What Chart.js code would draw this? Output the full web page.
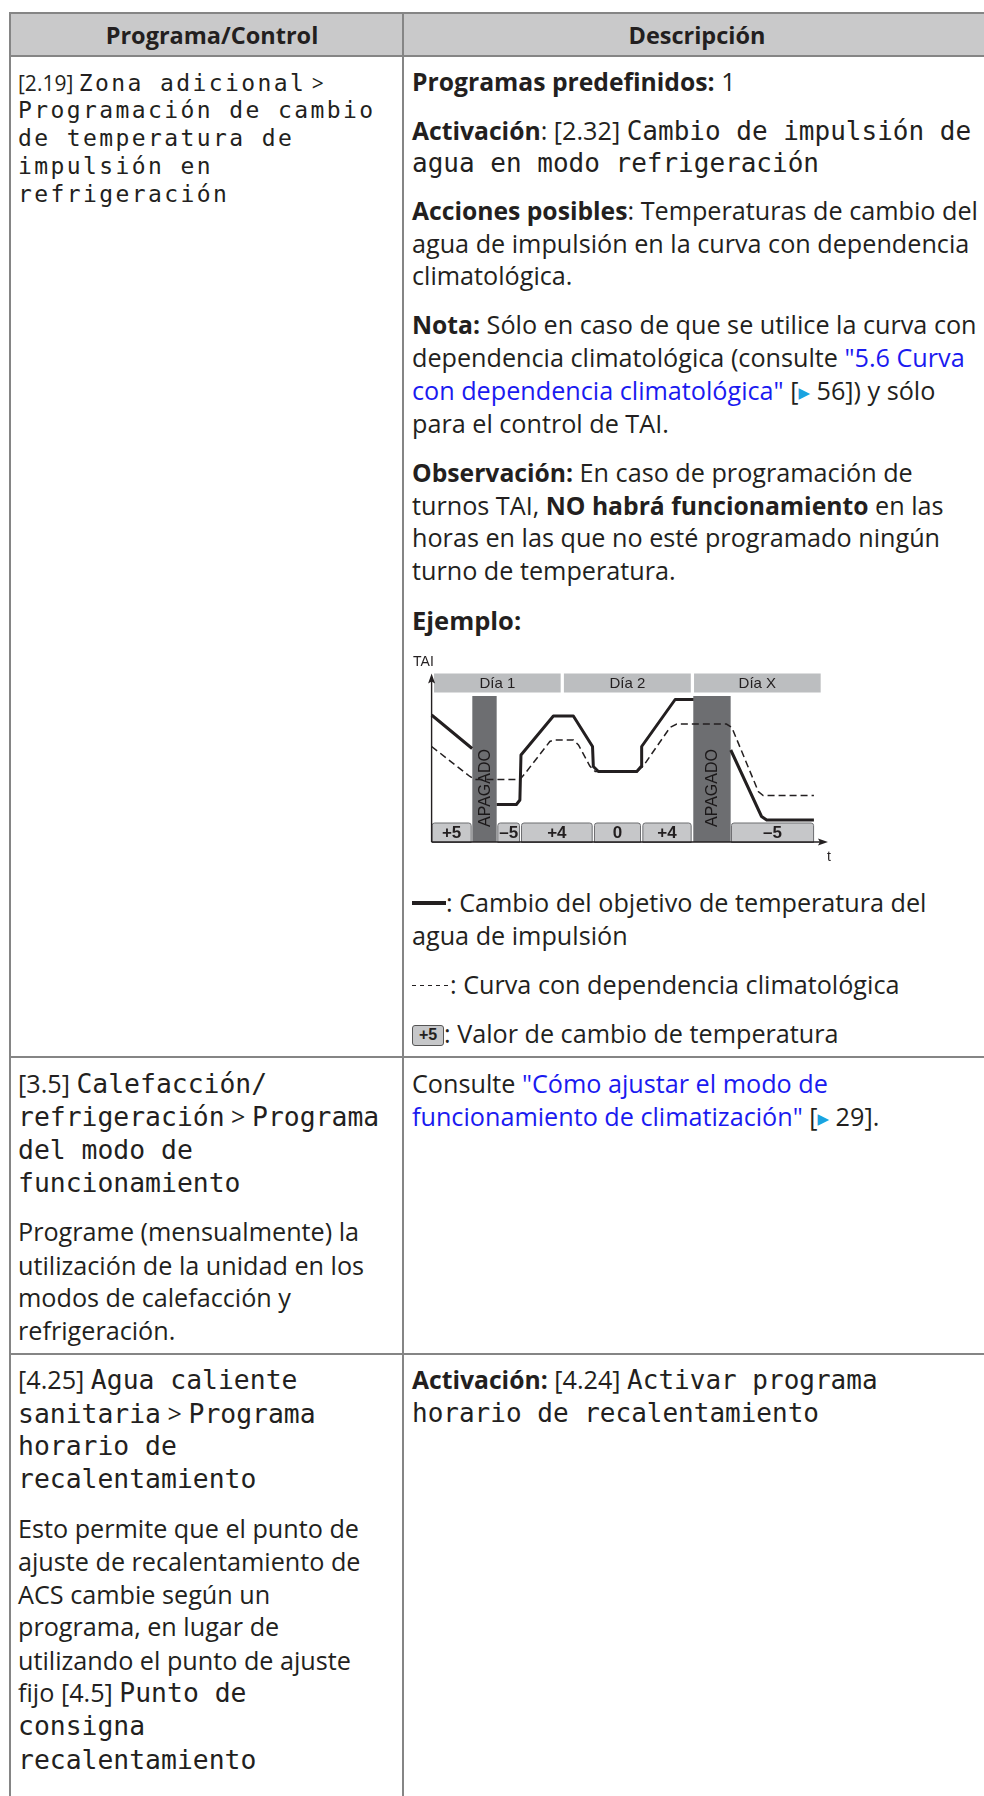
<!DOCTYPE html>
<html lang="es">
<head>
<meta charset="utf-8">
<script src="https://cdn.jsdelivr.net/npm/chart.js@4"></script>
<style>
  html, body { margin: 0; padding: 0; background: #fff; }
  body { width: 984px; height: 1796px; position: relative; overflow: hidden; color: #231f20;
         font-family: "Open Sans", sans-serif; font-size: 25.2px; }
  .ln { position: absolute; white-space: nowrap; height: 34px; line-height: 34px; }
  .sm { height: 28px; line-height: 28px; font-size: 21px; }
  .c1 { left: 18px; }
  .c2 { left: 412px; }
  .m0 { font-family: "DejaVu Sans Mono", monospace; font-size: 23px; letter-spacing: 2.4px; }
  .m1 { font-family: "DejaVu Sans Mono", monospace; font-size: 26.4px; }
  .m3 { font-family: "DejaVu Sans Mono", monospace; font-size: 26px; }
  b { font-weight: 700; font-size: 24.7px; }
  .lk { color: #1a1af0; }
  .ar { color: #1aa3e0; font-size: 15px; font-family: "DejaVu Sans", sans-serif; vertical-align: 2px; }
  .hl { position: absolute; background: #858585; }
  .head { position: absolute; left: 10px; top: 13px; width: 990px; height: 43px; background: #c9c9ca; }
  .htx { position: absolute; top: 13px; height: 43px; line-height: 45px; font-weight: 700; font-size: 23.5px; text-align: center; }
  .solid { display: inline-block; width: 34px; height: 4px; background: #231f20; vertical-align: 7px; }
  .dash { display: inline-block; width: 38px; height: 1.5px; vertical-align: 8px;
          background: repeating-linear-gradient(to right, #231f20 0 4.5px, transparent 4.5px 8px); }
  .key { display: inline-block; width: 30px; height: 19px; line-height: 19px; border: 1px solid #555; border-radius: 3px;
         background: #c6c7c9; font: bold 16px "Liberation Sans", Arial, sans-serif; text-align: center; vertical-align: 3px; }
  #chartBox { position: absolute; left: 410px; top: 652px; width: 432px; height: 220px; }
</style>
</head>
<body>
<!-- tabla -->
<div class="head"></div>
<div class="hl" style="left:10px;top:12px;width:990px;height:2px"></div>
<div class="hl" style="left:10px;top:55px;width:990px;height:2px"></div>
<div class="hl" style="left:10px;top:1056px;width:990px;height:2px"></div>
<div class="hl" style="left:10px;top:1353px;width:990px;height:2px"></div>
<div class="hl" style="left:9px;top:12px;width:2px;height:1784px"></div>
<div class="hl" style="left:402px;top:12px;width:2px;height:1784px"></div>
<div class="htx" style="left:10px;width:404px">Programa/Control</div>
<div class="htx" style="left:404px;width:586px">Descripción</div>

<!-- fila 1, columna 1 -->
<div class="ln sm c1" style="top:68.5px">[2.19] <span class="m0">Zona adicional</span> &gt;</div>
<div class="ln sm c1 m0" style="top:96.3px">Programación de cambio</div>
<div class="ln sm c1 m0" style="top:124.1px">de temperatura de</div>
<div class="ln sm c1 m0" style="top:151.9px">impulsión en</div>
<div class="ln sm c1 m0" style="top:179.7px">refrigeración</div>

<!-- fila 1, columna 2 -->
<div class="ln c2" style="top:64.3px"><b>Programas predefinidos:</b> 1</div>
<div class="ln c2" style="top:112.9px"><b>Activación</b>: [2.32] <span class="m3">Cambio de impulsión de</span></div>
<div class="ln c2 m3" style="top:146.2px">agua en modo refrigeración</div>
<div class="ln c2" style="top:193px"><b>Acciones posibles</b>: Temperaturas de cambio del</div>
<div class="ln c2" style="top:225.7px">agua de impulsión en la curva con dependencia</div>
<div class="ln c2" style="top:258.4px">climatológica.</div>
<div class="ln c2" style="top:307px"><b>Nota:</b> Sólo en caso de que se utilice la curva con</div>
<div class="ln c2" style="top:340.3px">dependencia climatológica (consulte <span class="lk">"5.6 Curva</span></div>
<div class="ln c2" style="top:373px"><span class="lk">con dependencia climatológica"</span> [<span class="ar">▶</span> 56]) y sólo</div>
<div class="ln c2" style="top:405.8px">para el control de TAI.</div>
<div class="ln c2" style="top:454.8px"><b>Observación:</b> En caso de programación de</div>
<div class="ln c2" style="top:487.5px">turnos TAI, <b>NO habrá funcionamiento</b> en las</div>
<div class="ln c2" style="top:520.2px">horas en las que no esté programado ningún</div>
<div class="ln c2" style="top:552.9px">turno de temperatura.</div>
<div class="ln c2" style="top:602.5px"><b style="font-size:25.5px">Ejemplo:</b></div>

<div id="chartBox"><canvas id="shiftChart" width="432" height="220"></canvas></div>

<div class="ln c2" style="top:885px"><span class="solid"></span>: Cambio del objetivo de temperatura del</div>
<div class="ln c2" style="top:918.4px">agua de impulsión</div>
<div class="ln c2" style="top:967px"><span class="dash"></span>: Curva con dependencia climatológica</div>
<div class="ln c2" style="top:1016.2px"><span class="key">+5</span>: Valor de cambio de temperatura</div>

<!-- fila 2 -->
<div class="ln c1" style="top:1066px">[3.5] <span class="m1">Calefacción/</span></div>
<div class="ln c1" style="top:1099.2px"><span class="m1">refrigeración</span> &gt; <span class="m1">Programa</span></div>
<div class="ln c1 m1" style="top:1132.5px">del modo de</div>
<div class="ln c1 m1" style="top:1165.8px">funcionamiento</div>
<div class="ln c1" style="top:1214.3px">Programe (mensualmente) la</div>
<div class="ln c1" style="top:1247.6px">utilización de la unidad en los</div>
<div class="ln c1" style="top:1280.3px">modos de calefacción y</div>
<div class="ln c1" style="top:1313px">refrigeración.</div>
<div class="ln c2" style="top:1066px">Consulte <span class="lk">"Cómo ajustar el modo de</span></div>
<div class="ln c2" style="top:1099.2px"><span class="lk">funcionamiento de climatización"</span> [<span class="ar">▶</span> 29].</div>

<!-- fila 3 -->
<div class="ln c1" style="top:1362.2px">[4.25] <span class="m1">Agua caliente</span></div>
<div class="ln c1" style="top:1395.5px"><span class="m1">sanitaria</span> &gt; <span class="m1">Programa</span></div>
<div class="ln c1 m1" style="top:1428.8px">horario de</div>
<div class="ln c1 m1" style="top:1462px">recalentamiento</div>
<div class="ln c1" style="top:1511.2px">Esto permite que el punto de</div>
<div class="ln c1" style="top:1543.9px">ajuste de recalentamiento de</div>
<div class="ln c1" style="top:1576.6px">ACS cambie según un</div>
<div class="ln c1" style="top:1609.3px">programa, en lugar de</div>
<div class="ln c1" style="top:1642.6px">utilizando el punto de ajuste</div>
<div class="ln c1" style="top:1675.3px">fijo [4.5] <span class="m1">Punto de</span></div>
<div class="ln c1 m1" style="top:1708.6px">consigna</div>
<div class="ln c1 m1" style="top:1742.5px">recalentamiento</div>
<div class="ln c2" style="top:1362.2px"><b>Activación:</b> [4.24] <span class="m3">Activar programa</span></div>
<div class="ln c2 m3" style="top:1395.5px">horario de recalentamiento</div>

<script>
// datos del ejemplo (x en horas, y en °C relativos)
const dayLabels = ['Día 1', 'Día 2', 'Día X'];
const dayStart = [0.45, 24.5, 48.6];
const dayEnd = [23.9, 48.0, 72.05];
const dayBand = [29.9, 33.7];

const offLabel = 'APAGADO';
const offStart = [7.54, 48.46];
const offEnd = [12.05, 55.38];
const offTop = 29.2;

const shiftLabels = ['+5', '–5', '+4', '0', '+4', '–5'];
const shiftStart = [0, 12.17, 16.56, 30.07, 39.03, 55.44];
const shiftEnd = [7.42, 16.37, 29.83, 38.78, 48.16, 70.83];
const shiftTop = 3.9;

// objetivo de temperatura (línea continua), null = apagado
const targetHours = [0, 7.5, 9.8, 12.05, 15.7, 16.35, 16.55, 22.55, 26.25, 29.8, 29.95, 30.9, 38.0, 38.8, 38.9, 45.1, 48.5, 51.9, 55.4, 61.1, 62.05, 70.8];
const targetTemp = [25.4, 18.7, null, 7.5, 7.5, 8.4, 17.4, 25.2, 25.2, 19.1, 15.1, 14.1, 14.1, 15.1, 19.1, 28.5, 28.5, null, 18.4, 5.1, 4.4, 4.4];

// curva con dependencia climatológica (línea discontinua)
const curveHours = [0, 7.1, 8.0, 16.35, 17.3, 21.9, 22.7, 26.25, 27.2, 29.3, 30.3, 38.0, 39.2, 44.15, 45.4, 54.6, 55.6, 60.5, 61.4, 70.8];
const curveTemp = [19.1, 13.1, 12.5, 12.5, 13.7, 20.1, 20.4, 20.4, 19.4, 15.2, 14.1, 14.1, 15.2, 22.9, 23.6, 23.6, 22.9, 10.1, 9.3, 9.3];

const ink = '#231f20';

function roundRect(ctx, x, y, w, h, r) {
    ctx.beginPath();
    ctx.moveTo(x + r, y);
    ctx.lineTo(x + w - r, y);
    ctx.quadraticCurveTo(x + w, y, x + w, y + r);
    ctx.lineTo(x + w, y + h);
    ctx.lineTo(x, y + h);
    ctx.lineTo(x, y + r);
    ctx.quadraticCurveTo(x, y, x + r, y);
    ctx.closePath();
}

// fondo del diagrama: días, apagado, cajas de cambio y ejes
const diagramPlugin = {
    id: 'diagram',
    beforeDatasetsDraw(chart) {
        const ctx = chart.ctx;
        const xs = chart.scales.x;
        const ys = chart.scales.y;
        ctx.save();
        ctx.textAlign = 'center';
        ctx.textBaseline = 'middle';

        // bandas de días
        const dTop = ys.getPixelForValue(dayBand[1]);
        const dBot = ys.getPixelForValue(dayBand[0]);
        dayLabels.forEach((lab, i) => {
            const x0 = xs.getPixelForValue(dayStart[i]);
            const x1 = xs.getPixelForValue(dayEnd[i]);
            ctx.fillStyle = '#bcbec0';
            ctx.fillRect(x0, dTop, x1 - x0, dBot - dTop);
            ctx.fillStyle = ink;
            ctx.font = '15px "Liberation Sans", Arial, sans-serif';
            ctx.fillText(lab, (x0 + x1) / 2, (dTop + dBot) / 2 + 1);
        });

        // cajas de cambio de temperatura
        const bTop = ys.getPixelForValue(shiftTop);
        const bBot = ys.getPixelForValue(0);
        shiftLabels.forEach((lab, i) => {
            const x0 = xs.getPixelForValue(shiftStart[i]);
            const x1 = xs.getPixelForValue(shiftEnd[i]);
            roundRect(ctx, x0 + 0.5, bTop + 0.5, x1 - x0 - 1, bBot - bTop, 2.5);
            ctx.fillStyle = '#c6c7c9';
            ctx.fill();
            ctx.strokeStyle = '#6d6e71';
            ctx.lineWidth = 1;
            ctx.stroke();
            ctx.fillStyle = ink;
            ctx.font = 'bold 17px "Liberation Sans", Arial, sans-serif';
            ctx.fillText(lab, (x0 + x1) / 2, (bTop + bBot) / 2 + 1.5);
        });

        // periodos apagados
        const oTop = ys.getPixelForValue(offTop);
        offStart.forEach((s, i) => {
            const x0 = xs.getPixelForValue(s);
            const x1 = xs.getPixelForValue(offEnd[i]);
            ctx.fillStyle = '#6d6e71';
            ctx.fillRect(x0, oTop, x1 - x0, bBot - oTop);
            ctx.save();
            ctx.translate((x0 + x1) / 2 + 1, bBot - 15);
            ctx.rotate(-Math.PI / 2);
            ctx.textAlign = 'left';
            ctx.fillStyle = '#1a1718';
            ctx.font = '16px "Liberation Sans", Arial, sans-serif';
            ctx.fillText(offLabel, 0, 0);
            ctx.restore();
        });

        // ejes con flechas
        const ox = xs.getPixelForValue(0);
        const oy = ys.getPixelForValue(0);
        const yEnd = ys.getPixelForValue(dayBand[1]);
        const xEnd = xs.getPixelForValue(73.4);
        ctx.strokeStyle = ink;
        ctx.fillStyle = ink;
        ctx.lineWidth = 1.4;
        ctx.beginPath();
        ctx.moveTo(ox, oy);
        ctx.lineTo(ox, yEnd + 6);
        ctx.moveTo(ox, oy);
        ctx.lineTo(xEnd - 6, oy);
        ctx.stroke();
        ctx.beginPath();
        ctx.moveTo(ox, yEnd);
        ctx.lineTo(ox - 3.5, yEnd + 10);
        ctx.lineTo(ox, yEnd + 8);
        ctx.lineTo(ox + 3.5, yEnd + 10);
        ctx.closePath();
        ctx.fill();
        ctx.beginPath();
        ctx.moveTo(xEnd, oy);
        ctx.lineTo(xEnd - 10, oy - 3.5);
        ctx.lineTo(xEnd - 8, oy);
        ctx.lineTo(xEnd - 10, oy + 3.5);
        ctx.closePath();
        ctx.fill();

        ctx.font = '14px "Liberation Sans", Arial, sans-serif';
        ctx.textAlign = 'left';
        ctx.fillText('TAI', ox - 18.5, ys.getPixelForValue(36));
        ctx.textAlign = 'center';
        ctx.fillText('t', xEnd + 1, oy + 15);
        ctx.restore();
    }
};

const ctx = document.getElementById('shiftChart').getContext('2d');
new Chart(ctx, {
    type: 'line',
    data: {
        datasets: [{
            label: 'Curva con dependencia climatológica',
            data: curveHours.map((h, i) => ({ x: h, y: curveTemp[i] })),
            borderColor: ink,
            borderWidth: 1.5,
            borderDash: [7, 4],
            pointRadius: 0,
            tension: 0,
            fill: false
        }, {
            label: 'Cambio del objetivo de temperatura',
            data: targetHours.map((h, i) => ({ x: h, y: targetTemp[i] })),
            borderColor: ink,
            borderWidth: 3,
            borderJoinStyle: 'round',
            pointRadius: 0,
            tension: 0,
            spanGaps: false,
            fill: false
        }]
    },
    options: {
        responsive: false,
        animation: false,
        events: [],
        layout: { padding: 0 },
        plugins: { legend: { display: false }, tooltip: { enabled: false } },
        scales: {
            x: { type: 'linear', min: -4, max: 76, display: false },
            y: { type: 'linear', min: -6, max: 38, display: false }
        }
    },
    plugins: [diagramPlugin]
});
</script>
</body>
</html>
